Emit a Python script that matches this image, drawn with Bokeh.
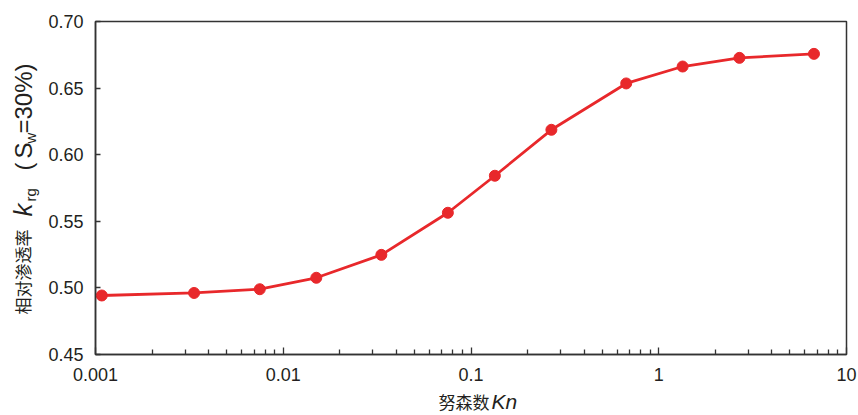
import math
from bokeh.plotting import figure
from bokeh.layouts import row, column
from bokeh.models import Label, FixedTicker, CustomJSTickFormatter, NumeralTickFormatter, Range1d
from bokeh.embed import file_html
from bokeh.resources import INLINE

# ---- data ----
kn = [0.00108, 0.00335, 0.0075, 0.0150, 0.0333, 0.0753, 0.134, 0.268, 0.671, 1.34, 2.69, 6.71]
krg = [0.4943, 0.4962, 0.4990, 0.5076, 0.5248, 0.5564, 0.5842, 0.6187, 0.6535, 0.6662, 0.6727, 0.6757]
x_ticks = [0.001, 0.01, 0.1, 1, 10]
y_ticks = [0.45, 0.50, 0.55, 0.60, 0.65, 0.70]
x_title_cn = "努森数"
x_title_sym = "Kn"
y_title_cn = "相对渗透率"

RED = "#e8282b"
INK = "#231f20"
AXIS = "#333333"
LATIN = "Liberation Sans"
CJK = "Noto Sans CJK SC"

LEFT_W = 40
MAIN_W = 818
MAIN_H = 388
TOTAL_H = 415

p = figure(width=MAIN_W, height=MAIN_H, x_axis_type="log",
           x_range=(x_ticks[0], x_ticks[-1]), y_range=(y_ticks[0], y_ticks[-1]),
           output_backend="svg", toolbar_location=None,
           min_border_left=55, min_border_right=12, min_border_top=21, min_border_bottom=34)
p.background_fill_color = "white"
p.border_fill_color = "white"
p.grid.visible = False
p.outline_line_color = AXIS
p.outline_line_width = 1.5

minor = [m * 10.0 ** e for e in range(-3, 1) for m in range(2, 10)]
p.xaxis.ticker = FixedTicker(ticks=x_ticks, minor_ticks=minor)
p.xaxis.formatter = CustomJSTickFormatter(code="return tick.toString();")
p.yaxis.ticker = FixedTicker(ticks=y_ticks)
p.yaxis.formatter = NumeralTickFormatter(format="0.00")

for ax in (p.xaxis[0], p.yaxis[0]):
    ax.axis_line_color = AXIS
    ax.axis_line_width = 1.5
    ax.major_tick_line_color = AXIS
    ax.major_tick_line_width = 1.3
    ax.minor_tick_line_color = AXIS
    ax.minor_tick_line_width = 1.3
    ax.major_tick_out = 0
    ax.minor_tick_out = 0
    ax.major_label_text_font = LATIN
    ax.major_label_text_font_size = "18px"
    ax.major_label_text_color = INK

p.xaxis.major_tick_in = 7
p.xaxis.minor_tick_in = 5
p.xaxis.major_label_standoff = 13
p.yaxis.major_tick_in = 5
p.yaxis.minor_tick_line_color = None
p.yaxis.major_label_standoff = 12

p.line(kn, krg, line_color=RED, line_width=2.8)
p.scatter(kn, krg, marker="circle", size=11, fill_color=RED, line_color=RED)


def text_panel(w, h):
    f = figure(width=w, height=h, x_range=Range1d(0, 1), y_range=Range1d(0, 1),
               output_backend="svg", toolbar_location=None,
               x_axis_location=None, y_axis_location=None, min_border=0)
    f.frame_align = False
    f.grid.visible = False
    f.outline_line_color = None
    f.background_fill_color = "white"
    f.border_fill_color = "white"
    return f


def lab(fig, text, x, y, size, font=LATIN, style="normal", angle=0.0, align="left"):
    fig.add_layout(Label(x=x, y=y, x_units="screen", y_units="screen", text=text,
                         text_font=font, text_font_size=size, text_font_style=style,
                         text_color=INK, angle=angle, text_align=align,
                         text_baseline="middle"))


# x axis title panel (below the main plot)
xf = text_panel(MAIN_W, TOTAL_H - MAIN_H)
lab(xf, x_title_cn, 398, 14.5, "17px", font=CJK)
lab(xf, x_title_sym, 451, 14.5, "21px", style="italic")

# y axis title panel (left of the main plot), rotated pieces
yf = text_panel(LEFT_W, TOTAL_H)
R = math.pi / 2
lab(yf, y_title_cn, 22, 186, "17px", font=CJK, angle=R, align="right")
lab(yf, "k", 22, 199, "26px", style="italic", angle=R)
lab(yf, "rg", 30, 214, "15px", angle=R)
lab(yf, "(", 23, 245, "24px", angle=R)
lab(yf, "S", 23, 257, "24px", angle=R)
lab(yf, "w", 30, 272, "15px", angle=R)
lab(yf, "=30%)", 23, 282, "24px", angle=R)

layout = row(yf, column(p, xf))
open("out.html", "w").write(file_html(layout, INLINE))
